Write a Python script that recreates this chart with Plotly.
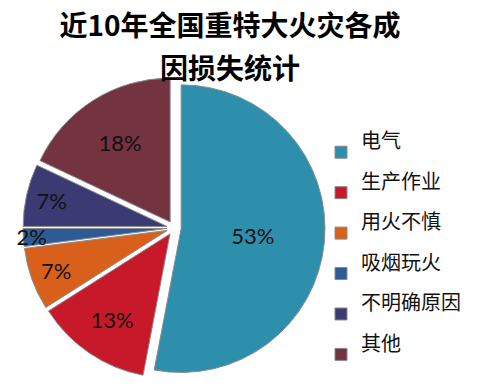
import plotly.graph_objects as go

categories = ["电气", "生产作业", "用火不慎", "吸烟玩火", "不明确原因", "其他"]
values = [53, 13, 7, 2, 7, 18]
colors = ["#2E8FAD", "#C8192B", "#D9601A", "#2E5A96", "#3B3A72", "#733341"]

legend_labels = [f"<span style='font-size:20px'>{c}</span><br>&nbsp;" for c in categories]

fig = go.Figure(go.Pie(
    labels=legend_labels,
    values=values,
    sort=False,
    direction="clockwise",
    rotation=0,
    pull=[0.05] * len(values),
    marker=dict(colors=colors, line=dict(color="#8a8a8a", width=1)),
    texttemplate="%{percent:.0%}",
    textposition="inside",
    insidetextorientation="horizontal",
    textfont=dict(family="Lato, Open Sans, sans-serif", size=22, color="#111111"),
    domain=dict(x=[15 / 480, 317 / 480], y=[1 - 371 / 391, 1 - 69 / 391]),
    hoverinfo="label+percent",
))

fig.update_layout(
    width=480, height=391,
    margin=dict(l=0, r=0, t=0, b=0),
    paper_bgcolor="white",
    uniformtext=dict(minsize=22, mode="show"),
    title=dict(
        text="<b><span style='font-size:28px'>近10年全国重特大火灾各成</span><br><span style='font-size:28px'>因损失统计</span></b>",
        font=dict(family="Noto Sans CJK SC", size=33, color="#000000"),
        x=222 / 480, xanchor="center", xref="paper",
        y=1 - 28 / 391, yanchor="top", yref="container",
    ),
    legend=dict(
        font=dict(family="Noto Sans CJK SC", size=14.4, color="#111111"),
        x=313 / 480, xanchor="left",
        y=1 - 119 / 391, yanchor="top",
        valign="middle",
        bgcolor="rgba(0,0,0,0)",
    ),
    showlegend=True,
)

fig.write_html("out.html")
